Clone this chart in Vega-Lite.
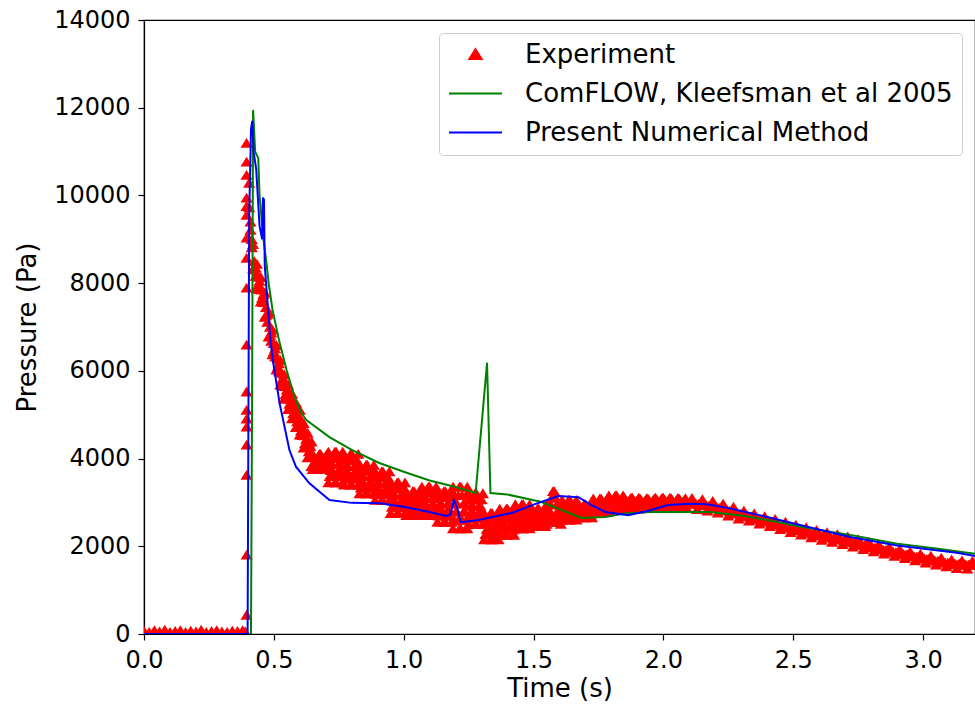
{
  "$schema": "https://vega.github.io/schema/vega-lite/v6.json",
  "width": 831,
  "height": 614,
  "autosize": {"type": "none"},
  "padding": {"left": 144, "top": 20, "right": 0, "bottom": 73},
  "background": "white",
  "config": {
    "font": "DejaVu Sans",
    "view": {"stroke": "black", "strokeWidth": 1.2},
    "axis": {
      "grid": false,
      "domainColor": "black",
      "domainWidth": 1.2,
      "tickColor": "black",
      "tickSize": 6,
      "tickWidth": 1.2,
      "labelColor": "black",
      "titleColor": "black",
      "labelFontSize": 24,
      "titleFontSize": 26,
      "titleFontWeight": "normal",
      "labelPadding": 8
    },
    "legend": {
      "orient": "none", "legendX": 295, "legendY": 13,
      "labelFontSize": 26, "labelColor": "black", "labelLimit": 700, "labelOffset": 22,
      "symbolSize": 2809, "symbolStrokeWidth": 2,
      "clipHeight": 25, "rowPadding": 12, "padding": 9,
      "strokeColor": "#cccccc", "fillColor": "white", "cornerRadius": 4
    }
  },
  "datasets": {
    "exp": [
      {"t":0.0,"p":60},{"t":0.02,"p":40},{"t":0.04,"p":80},{"t":0.06,"p":50},{"t":0.08,"p":90},{"t":0.1,"p":40},{"t":0.12,"p":60},{"t":0.14,"p":80},{"t":0.16,"p":40},{"t":0.18,"p":70},{"t":0.2,"p":50},{"t":0.22,"p":90},{"t":0.24,"p":40},{"t":0.26,"p":60},{"t":0.28,"p":80},{"t":0.3,"p":50},{"t":0.32,"p":40},{"t":0.34,"p":70},{"t":0.36,"p":60},{"t":0.38,"p":80},{"t":0.39,"p":50},
      {"t":0.395,"p":430},{"t":0.395,"p":1800},{"t":0.395,"p":3620},{"t":0.395,"p":4310},{"t":0.395,"p":4720},{"t":0.395,"p":4900},{"t":0.395,"p":5100},{"t":0.395,"p":5520},{"t":0.395,"p":6590},{"t":0.395,"p":7890},{"t":0.395,"p":8570},{"t":0.395,"p":9030},{"t":0.395,"p":9550},{"t":0.395,"p":9750},{"t":0.395,"p":9940},{"t":0.395,"p":10460},{"t":0.395,"p":10760},{"t":0.395,"p":11190},
      {"t":0.405,"p":10280},{"t":0.41,"p":9393},{"t":0.415,"p":8807},{"t":0.42,"p":8320},{"t":0.425,"p":8307},{"t":0.43,"p":8343},{"t":0.435,"p":8430},{"t":0.44,"p":8143},{"t":0.445,"p":7857},{"t":0.45,"p":7570},{"t":0.455,"p":7657},{"t":0.46,"p":7743},{"t":0.465,"p":7780},{"t":0.47,"p":7443},{"t":0.475,"p":7107},{"t":0.48,"p":6770},{"t":0.485,"p":6807},{"t":0.49,"p":6863},{"t":0.495,"p":6930},{"t":0.5,"p":6623},{"t":0.505,"p":6317},{"t":0.51,"p":6020},{"t":0.515,"p":6087},{"t":0.52,"p":6163},{"t":0.525,"p":6240},{"t":0.53,"p":5943},{"t":0.535,"p":5647},{"t":0.54,"p":5350},{"t":0.545,"p":5457},{"t":0.55,"p":5563},{"t":0.555,"p":5680},{"t":0.56,"p":5423},{"t":0.565,"p":5167},{"t":0.57,"p":4910},{"t":0.575,"p":5027},{"t":0.58,"p":5143},{"t":0.585,"p":5270},{"t":0.59,"p":5023},{"t":0.595,"p":4787},{"t":0.6,"p":4540},{"t":0.605,"p":4627},{"t":0.61,"p":4713},{"t":0.615,"p":4800},{"t":0.62,"p":4523},{"t":0.625,"p":4257},{"t":0.63,"p":4020},{"t":0.635,"p":4157},{"t":0.64,"p":4273},{"t":0.645,"p":4380},
      {"t":0.405,"p":9720},{"t":0.41,"p":9207},{"t":0.415,"p":8993},{"t":0.42,"p":8880},{"t":0.425,"p":8493},{"t":0.43,"p":8157},{"t":0.435,"p":7870},{"t":0.44,"p":7957},{"t":0.445,"p":8043},{"t":0.45,"p":8130},{"t":0.455,"p":7843},{"t":0.46,"p":7557},{"t":0.465,"p":7220},{"t":0.47,"p":7257},{"t":0.475,"p":7293},{"t":0.48,"p":7330},{"t":0.485,"p":6993},{"t":0.49,"p":6677},{"t":0.495,"p":6370},{"t":0.5,"p":6437},{"t":0.505,"p":6503},{"t":0.51,"p":6580},{"t":0.515,"p":6273},{"t":0.52,"p":5977},{"t":0.525,"p":5680},{"t":0.53,"p":5757},{"t":0.535,"p":5833},{"t":0.54,"p":5910},{"t":0.545,"p":5643},{"t":0.55,"p":5377},{"t":0.555,"p":5120},{"t":0.56,"p":5237},{"t":0.565,"p":5353},{"t":0.57,"p":5470},{"t":0.575,"p":5213},{"t":0.58,"p":4957},{"t":0.585,"p":4710},{"t":0.59,"p":4837},{"t":0.595,"p":4973},{"t":0.6,"p":5100},{"t":0.605,"p":4813},{"t":0.61,"p":4527},{"t":0.615,"p":4240},{"t":0.62,"p":4337},{"t":0.625,"p":4443},{"t":0.63,"p":4580},{"t":0.635,"p":4343},{"t":0.64,"p":4087},{"t":0.645,"p":3820},
      {"t":0.65,"p":3750},{"t":0.655,"p":3820},{"t":0.66,"p":3890},{"t":0.665,"p":3960},{"t":0.67,"p":4030},{"t":0.675,"p":4100},{"t":0.68,"p":4100},{"t":0.685,"p":4030},{"t":0.69,"p":3960},{"t":0.695,"p":3890},{"t":0.7,"p":3820},{"t":0.705,"p":3750},
      {"t":0.71,"p":3450},{"t":0.715,"p":3590},{"t":0.72,"p":3730},{"t":0.725,"p":3870},{"t":0.73,"p":4010},{"t":0.735,"p":4150},{"t":0.74,"p":4150},{"t":0.745,"p":4010},{"t":0.75,"p":3870},{"t":0.755,"p":3730},{"t":0.76,"p":3590},{"t":0.765,"p":3450},
      {"t":0.77,"p":3400},{"t":0.775,"p":3540},{"t":0.78,"p":3680},{"t":0.785,"p":3820},{"t":0.79,"p":3960},{"t":0.795,"p":4100},{"t":0.8,"p":4100},{"t":0.805,"p":3960},{"t":0.81,"p":3820},{"t":0.815,"p":3680},{"t":0.82,"p":3540},{"t":0.825,"p":3400},
      {"t":0.83,"p":3200},{"t":0.835,"p":3330},{"t":0.84,"p":3460},{"t":0.845,"p":3590},{"t":0.85,"p":3720},{"t":0.855,"p":3850},{"t":0.86,"p":3850},{"t":0.865,"p":3720},{"t":0.87,"p":3590},{"t":0.875,"p":3460},{"t":0.88,"p":3330},{"t":0.885,"p":3200},
      {"t":0.89,"p":3050},{"t":0.895,"p":3180},{"t":0.9,"p":3310},{"t":0.905,"p":3440},{"t":0.91,"p":3570},{"t":0.915,"p":3700},{"t":0.92,"p":3700},{"t":0.925,"p":3570},{"t":0.93,"p":3440},{"t":0.935,"p":3310},{"t":0.94,"p":3180},{"t":0.945,"p":3050},
      {"t":0.95,"p":2750},{"t":0.955,"p":2890},{"t":0.96,"p":3030},{"t":0.965,"p":3170},{"t":0.97,"p":3310},{"t":0.975,"p":3450},{"t":0.98,"p":3450},{"t":0.985,"p":3310},{"t":0.99,"p":3170},{"t":0.995,"p":3030},{"t":1.0,"p":2890},{"t":1.005,"p":2750},
      {"t":1.01,"p":2700},{"t":1.015,"p":2810},{"t":1.02,"p":2920},{"t":1.025,"p":3030},{"t":1.03,"p":3140},{"t":1.035,"p":3250},{"t":1.04,"p":3250},{"t":1.045,"p":3140},{"t":1.05,"p":3030},{"t":1.055,"p":2920},{"t":1.06,"p":2810},{"t":1.065,"p":2700},
      {"t":1.07,"p":2700},{"t":1.075,"p":2830},{"t":1.08,"p":2960},{"t":1.085,"p":3090},{"t":1.09,"p":3220},{"t":1.095,"p":3350},{"t":1.1,"p":3350},{"t":1.105,"p":3220},{"t":1.11,"p":3090},{"t":1.115,"p":2960},{"t":1.12,"p":2830},{"t":1.125,"p":2700},
      {"t":1.13,"p":2550},{"t":1.135,"p":2690},{"t":1.14,"p":2830},{"t":1.145,"p":2970},{"t":1.15,"p":3110},{"t":1.155,"p":3250},{"t":1.16,"p":3250},{"t":1.165,"p":3110},{"t":1.17,"p":2970},{"t":1.175,"p":2830},{"t":1.18,"p":2690},{"t":1.185,"p":2550},
      {"t":1.19,"p":2400},{"t":1.195,"p":2590},{"t":1.2,"p":2780},{"t":1.205,"p":2970},{"t":1.21,"p":3160},{"t":1.215,"p":3350},{"t":1.22,"p":3350},{"t":1.225,"p":3160},{"t":1.23,"p":2970},{"t":1.235,"p":2780},{"t":1.24,"p":2590},{"t":1.245,"p":2400},
      {"t":1.25,"p":2500},{"t":1.255,"p":2640},{"t":1.26,"p":2780},{"t":1.265,"p":2920},{"t":1.27,"p":3060},{"t":1.275,"p":3200},{"t":1.28,"p":3200},{"t":1.285,"p":3060},{"t":1.29,"p":2920},{"t":1.295,"p":2780},{"t":1.3,"p":2640},{"t":1.305,"p":2500},
      {"t":1.31,"p":2150},{"t":1.315,"p":2270},{"t":1.32,"p":2390},{"t":1.325,"p":2510},{"t":1.33,"p":2630},{"t":1.335,"p":2750},{"t":1.34,"p":2750},{"t":1.345,"p":2630},{"t":1.35,"p":2510},{"t":1.355,"p":2390},{"t":1.36,"p":2270},{"t":1.365,"p":2150},
      {"t":1.37,"p":2250},{"t":1.375,"p":2370},{"t":1.38,"p":2490},{"t":1.385,"p":2610},{"t":1.39,"p":2730},{"t":1.395,"p":2850},{"t":1.4,"p":2850},{"t":1.405,"p":2730},{"t":1.41,"p":2610},{"t":1.415,"p":2490},{"t":1.42,"p":2370},{"t":1.425,"p":2250},
      {"t":1.43,"p":2400},{"t":1.435,"p":2510},{"t":1.44,"p":2620},{"t":1.445,"p":2730},{"t":1.45,"p":2840},{"t":1.455,"p":2950},{"t":1.46,"p":2950},{"t":1.465,"p":2840},{"t":1.47,"p":2730},{"t":1.475,"p":2620},{"t":1.48,"p":2510},{"t":1.485,"p":2400},
      {"t":1.49,"p":2450},{"t":1.495,"p":2530},{"t":1.5,"p":2610},{"t":1.505,"p":2690},{"t":1.51,"p":2770},{"t":1.515,"p":2850},{"t":1.52,"p":2850},{"t":1.525,"p":2770},{"t":1.53,"p":2690},{"t":1.535,"p":2610},{"t":1.54,"p":2530},{"t":1.545,"p":2450},
      {"t":1.55,"p":2500},{"t":1.555,"p":2650},{"t":1.56,"p":2800},{"t":1.565,"p":2950},{"t":1.57,"p":3100},{"t":1.575,"p":3250},{"t":1.58,"p":3250},{"t":1.585,"p":3100},{"t":1.59,"p":2950},{"t":1.595,"p":2800},{"t":1.6,"p":2650},{"t":1.605,"p":2500},
      {"t":1.61,"p":2600},{"t":1.615,"p":2690},{"t":1.62,"p":2780},{"t":1.625,"p":2870},{"t":1.63,"p":2960},{"t":1.635,"p":3050},{"t":1.64,"p":3050},{"t":1.645,"p":2960},{"t":1.65,"p":2870},{"t":1.655,"p":2780},{"t":1.66,"p":2690},{"t":1.665,"p":2600},
      {"t":1.67,"p":2650},{"t":1.675,"p":2710},{"t":1.68,"p":2770},{"t":1.685,"p":2830},{"t":1.69,"p":2890},{"t":1.695,"p":2950},{"t":1.7,"p":2950},{"t":1.705,"p":2890},{"t":1.71,"p":2830},{"t":1.715,"p":2770},{"t":1.72,"p":2710},{"t":1.725,"p":2650},
      {"t":1.73,"p":2780},{"t":1.735,"p":2840},{"t":1.74,"p":2900},{"t":1.745,"p":2960},{"t":1.75,"p":3020},{"t":1.755,"p":3080},{"t":1.76,"p":3080},{"t":1.765,"p":3020},{"t":1.77,"p":2960},{"t":1.775,"p":2900},{"t":1.78,"p":2840},{"t":1.785,"p":2780},
      {"t":1.79,"p":2820},{"t":1.795,"p":2890},{"t":1.8,"p":2950},{"t":1.805,"p":3020},{"t":1.81,"p":3080},{"t":1.815,"p":3150},{"t":1.82,"p":3150},{"t":1.825,"p":3080},{"t":1.83,"p":3020},{"t":1.835,"p":2950},{"t":1.84,"p":2890},{"t":1.845,"p":2820},
      {"t":1.85,"p":2850},{"t":1.855,"p":2900},{"t":1.86,"p":2950},{"t":1.865,"p":3000},{"t":1.87,"p":3050},{"t":1.875,"p":3100},{"t":1.88,"p":3100},{"t":1.885,"p":3050},{"t":1.89,"p":3000},{"t":1.895,"p":2950},{"t":1.9,"p":2900},{"t":1.905,"p":2850},
      {"t":1.91,"p":2860},{"t":1.915,"p":2900},{"t":1.92,"p":2950},{"t":1.925,"p":2990},{"t":1.93,"p":3040},{"t":1.935,"p":3080},{"t":1.94,"p":3080},{"t":1.945,"p":3040},{"t":1.95,"p":2990},{"t":1.955,"p":2950},{"t":1.96,"p":2900},{"t":1.965,"p":2860},
      {"t":1.97,"p":2870},{"t":1.975,"p":2920},{"t":1.98,"p":2960},{"t":1.985,"p":3010},{"t":1.99,"p":3050},{"t":1.995,"p":3100},{"t":2.0,"p":3100},{"t":2.005,"p":3050},{"t":2.01,"p":3010},{"t":2.015,"p":2960},{"t":2.02,"p":2920},{"t":2.025,"p":2870},
      {"t":2.03,"p":2860},{"t":2.035,"p":2910},{"t":2.04,"p":2950},{"t":2.045,"p":3000},{"t":2.05,"p":3040},{"t":2.055,"p":3090},{"t":2.06,"p":3090},{"t":2.065,"p":3040},{"t":2.07,"p":3000},{"t":2.075,"p":2950},{"t":2.08,"p":2910},{"t":2.085,"p":2860},
      {"t":0.65,"p":4100},{"t":0.655,"p":4030},{"t":0.66,"p":3960},{"t":0.665,"p":3890},{"t":0.67,"p":3820},{"t":0.675,"p":3750},{"t":0.68,"p":3750},{"t":0.685,"p":3820},{"t":0.69,"p":3890},{"t":0.695,"p":3960},{"t":0.7,"p":4030},{"t":0.705,"p":4100},
      {"t":0.71,"p":4150},{"t":0.715,"p":4010},{"t":0.72,"p":3870},{"t":0.725,"p":3730},{"t":0.73,"p":3590},{"t":0.735,"p":3450},{"t":0.74,"p":3450},{"t":0.745,"p":3590},{"t":0.75,"p":3730},{"t":0.755,"p":3870},{"t":0.76,"p":4010},{"t":0.765,"p":4150},
      {"t":0.77,"p":4100},{"t":0.775,"p":3960},{"t":0.78,"p":3820},{"t":0.785,"p":3680},{"t":0.79,"p":3540},{"t":0.795,"p":3400},{"t":0.8,"p":3400},{"t":0.805,"p":3540},{"t":0.81,"p":3680},{"t":0.815,"p":3820},{"t":0.82,"p":3960},{"t":0.825,"p":4100},
      {"t":0.83,"p":3850},{"t":0.835,"p":3720},{"t":0.84,"p":3590},{"t":0.845,"p":3460},{"t":0.85,"p":3330},{"t":0.855,"p":3200},{"t":0.86,"p":3200},{"t":0.865,"p":3330},{"t":0.87,"p":3460},{"t":0.875,"p":3590},{"t":0.88,"p":3720},{"t":0.885,"p":3850},
      {"t":0.89,"p":3700},{"t":0.895,"p":3570},{"t":0.9,"p":3440},{"t":0.905,"p":3310},{"t":0.91,"p":3180},{"t":0.915,"p":3050},{"t":0.92,"p":3050},{"t":0.925,"p":3180},{"t":0.93,"p":3310},{"t":0.935,"p":3440},{"t":0.94,"p":3570},{"t":0.945,"p":3700},
      {"t":0.95,"p":3450},{"t":0.955,"p":3310},{"t":0.96,"p":3170},{"t":0.965,"p":3030},{"t":0.97,"p":2890},{"t":0.975,"p":2750},{"t":0.98,"p":2750},{"t":0.985,"p":2890},{"t":0.99,"p":3030},{"t":0.995,"p":3170},{"t":1.0,"p":3310},{"t":1.005,"p":3450},
      {"t":1.01,"p":3250},{"t":1.015,"p":3140},{"t":1.02,"p":3030},{"t":1.025,"p":2920},{"t":1.03,"p":2810},{"t":1.035,"p":2700},{"t":1.04,"p":2700},{"t":1.045,"p":2810},{"t":1.05,"p":2920},{"t":1.055,"p":3030},{"t":1.06,"p":3140},{"t":1.065,"p":3250},
      {"t":1.07,"p":3350},{"t":1.075,"p":3220},{"t":1.08,"p":3090},{"t":1.085,"p":2960},{"t":1.09,"p":2830},{"t":1.095,"p":2700},{"t":1.1,"p":2700},{"t":1.105,"p":2830},{"t":1.11,"p":2960},{"t":1.115,"p":3090},{"t":1.12,"p":3220},{"t":1.125,"p":3350},
      {"t":1.13,"p":3250},{"t":1.135,"p":3110},{"t":1.14,"p":2970},{"t":1.145,"p":2830},{"t":1.15,"p":2690},{"t":1.155,"p":2550},{"t":1.16,"p":2550},{"t":1.165,"p":2690},{"t":1.17,"p":2830},{"t":1.175,"p":2970},{"t":1.18,"p":3110},{"t":1.185,"p":3250},
      {"t":1.19,"p":3350},{"t":1.195,"p":3160},{"t":1.2,"p":2970},{"t":1.205,"p":2780},{"t":1.21,"p":2590},{"t":1.215,"p":2400},{"t":1.22,"p":2400},{"t":1.225,"p":2590},{"t":1.23,"p":2780},{"t":1.235,"p":2970},{"t":1.24,"p":3160},{"t":1.245,"p":3350},
      {"t":1.25,"p":3200},{"t":1.255,"p":3060},{"t":1.26,"p":2920},{"t":1.265,"p":2780},{"t":1.27,"p":2640},{"t":1.275,"p":2500},{"t":1.28,"p":2500},{"t":1.285,"p":2640},{"t":1.29,"p":2780},{"t":1.295,"p":2920},{"t":1.3,"p":3060},{"t":1.305,"p":3200},
      {"t":1.31,"p":2750},{"t":1.315,"p":2630},{"t":1.32,"p":2510},{"t":1.325,"p":2390},{"t":1.33,"p":2270},{"t":1.335,"p":2150},{"t":1.34,"p":2150},{"t":1.345,"p":2270},{"t":1.35,"p":2390},{"t":1.355,"p":2510},{"t":1.36,"p":2630},{"t":1.365,"p":2750},
      {"t":1.37,"p":2850},{"t":1.375,"p":2730},{"t":1.38,"p":2610},{"t":1.385,"p":2490},{"t":1.39,"p":2370},{"t":1.395,"p":2250},{"t":1.4,"p":2250},{"t":1.405,"p":2370},{"t":1.41,"p":2490},{"t":1.415,"p":2610},{"t":1.42,"p":2730},{"t":1.425,"p":2850},
      {"t":1.43,"p":2950},{"t":1.435,"p":2840},{"t":1.44,"p":2730},{"t":1.445,"p":2620},{"t":1.45,"p":2510},{"t":1.455,"p":2400},{"t":1.46,"p":2400},{"t":1.465,"p":2510},{"t":1.47,"p":2620},{"t":1.475,"p":2730},{"t":1.48,"p":2840},{"t":1.485,"p":2950},
      {"t":1.49,"p":2850},{"t":1.495,"p":2770},{"t":1.5,"p":2690},{"t":1.505,"p":2610},{"t":1.51,"p":2530},{"t":1.515,"p":2450},{"t":1.52,"p":2450},{"t":1.525,"p":2530},{"t":1.53,"p":2610},{"t":1.535,"p":2690},{"t":1.54,"p":2770},{"t":1.545,"p":2850},
      {"t":1.55,"p":2950},{"t":1.555,"p":2870},{"t":1.56,"p":2790},{"t":1.565,"p":2710},{"t":1.57,"p":2630},{"t":1.575,"p":2550},{"t":1.58,"p":2550},{"t":1.585,"p":2630},{"t":1.59,"p":2710},{"t":1.595,"p":2790},{"t":1.6,"p":2870},{"t":1.605,"p":2950},
      {"t":1.61,"p":3050},{"t":1.615,"p":2960},{"t":1.62,"p":2870},{"t":1.625,"p":2780},{"t":1.63,"p":2690},{"t":1.635,"p":2600},{"t":1.64,"p":2600},{"t":1.645,"p":2690},{"t":1.65,"p":2780},{"t":1.655,"p":2870},{"t":1.66,"p":2960},{"t":1.665,"p":3050},
      {"t":1.67,"p":2950},{"t":1.675,"p":2890},{"t":1.68,"p":2830},{"t":1.685,"p":2770},{"t":1.69,"p":2710},{"t":1.695,"p":2650},{"t":1.7,"p":2650},{"t":1.705,"p":2710},{"t":1.71,"p":2770},{"t":1.715,"p":2830},{"t":1.72,"p":2890},{"t":1.725,"p":2950},
      {"t":1.73,"p":3080},{"t":1.735,"p":3020},{"t":1.74,"p":2960},{"t":1.745,"p":2900},{"t":1.75,"p":2840},{"t":1.755,"p":2780},{"t":1.76,"p":2780},{"t":1.765,"p":2840},{"t":1.77,"p":2900},{"t":1.775,"p":2960},{"t":1.78,"p":3020},{"t":1.785,"p":3080},
      {"t":1.79,"p":3150},{"t":1.795,"p":3080},{"t":1.8,"p":3020},{"t":1.805,"p":2950},{"t":1.81,"p":2890},{"t":1.815,"p":2820},{"t":1.82,"p":2820},{"t":1.825,"p":2890},{"t":1.83,"p":2950},{"t":1.835,"p":3020},{"t":1.84,"p":3080},{"t":1.845,"p":3150},
      {"t":1.85,"p":3100},{"t":1.855,"p":3050},{"t":1.86,"p":3000},{"t":1.865,"p":2950},{"t":1.87,"p":2900},{"t":1.875,"p":2850},{"t":1.88,"p":2850},{"t":1.885,"p":2900},{"t":1.89,"p":2950},{"t":1.895,"p":3000},{"t":1.9,"p":3050},{"t":1.905,"p":3100},
      {"t":1.91,"p":3080},{"t":1.915,"p":3040},{"t":1.92,"p":2990},{"t":1.925,"p":2950},{"t":1.93,"p":2900},{"t":1.935,"p":2860},{"t":1.94,"p":2860},{"t":1.945,"p":2900},{"t":1.95,"p":2950},{"t":1.955,"p":2990},{"t":1.96,"p":3040},{"t":1.965,"p":3080},
      {"t":1.97,"p":3100},{"t":1.975,"p":3050},{"t":1.98,"p":3010},{"t":1.985,"p":2960},{"t":1.99,"p":2920},{"t":1.995,"p":2870},{"t":2.0,"p":2870},{"t":2.005,"p":2920},{"t":2.01,"p":2960},{"t":2.015,"p":3010},{"t":2.02,"p":3050},{"t":2.025,"p":3100},
      {"t":2.03,"p":3090},{"t":2.035,"p":3040},{"t":2.04,"p":3000},{"t":2.045,"p":2950},{"t":2.05,"p":2910},{"t":2.055,"p":2860},{"t":2.06,"p":2860},{"t":2.065,"p":2910},{"t":2.07,"p":2950},{"t":2.075,"p":3000},{"t":2.08,"p":3040},{"t":2.085,"p":3090},
      {"t":2.09,"p":2865},{"t":2.1,"p":2980},{"t":2.11,"p":3095},{"t":2.12,"p":2968},{"t":2.13,"p":2840},{"t":2.14,"p":2952},{"t":2.15,"p":3065},{"t":2.16,"p":2935},{"t":2.17,"p":2805},{"t":2.18,"p":2912},{"t":2.19,"p":3025},{"t":2.2,"p":2900},
      {"t":2.21,"p":2760},{"t":2.22,"p":2860},{"t":2.23,"p":2965},{"t":2.24,"p":2825},{"t":2.25,"p":2690},{"t":2.26,"p":2790},{"t":2.27,"p":2895},{"t":2.28,"p":2755},{"t":2.29,"p":2620},{"t":2.3,"p":2720},
      {"t":2.31,"p":2805},{"t":2.32,"p":2690},{"t":2.33,"p":2575},{"t":2.34,"p":2660},{"t":2.35,"p":2740},{"t":2.36,"p":2625},{"t":2.37,"p":2510},{"t":2.38,"p":2595},{"t":2.39,"p":2680},{"t":2.4,"p":2565},
      {"t":2.41,"p":2450},{"t":2.42,"p":2530},{"t":2.43,"p":2615},{"t":2.44,"p":2500},{"t":2.45,"p":2380},{"t":2.46,"p":2465},{"t":2.47,"p":2550},{"t":2.48,"p":2430},{"t":2.49,"p":2315},{"t":2.5,"p":2400},
      {"t":2.51,"p":2485},{"t":2.52,"p":2370},{"t":2.53,"p":2255},{"t":2.54,"p":2340},{"t":2.55,"p":2425},{"t":2.56,"p":2310},{"t":2.57,"p":2195},{"t":2.58,"p":2280},{"t":2.59,"p":2365},{"t":2.6,"p":2250},
      {"t":2.61,"p":2138},{"t":2.62,"p":2226},{"t":2.63,"p":2314},{"t":2.64,"p":2202},{"t":2.65,"p":2090},{"t":2.66,"p":2178},{"t":2.67,"p":2266},{"t":2.68,"p":2154},{"t":2.69,"p":2042},{"t":2.7,"p":2130},
      {"t":2.71,"p":2215},{"t":2.72,"p":2100},{"t":2.73,"p":1985},{"t":2.74,"p":2070},{"t":2.75,"p":2155},{"t":2.76,"p":2040},{"t":2.77,"p":1925},{"t":2.78,"p":2010},{"t":2.79,"p":2095},{"t":2.8,"p":1980},
      {"t":2.81,"p":1877},{"t":2.82,"p":1954},{"t":2.83,"p":2031},{"t":2.84,"p":1928},{"t":2.85,"p":1825},{"t":2.86,"p":1902},{"t":2.87,"p":1979},{"t":2.88,"p":1876},{"t":2.89,"p":1773},{"t":2.9,"p":1850},
      {"t":2.91,"p":1927},{"t":2.92,"p":1824},{"t":2.93,"p":1721},{"t":2.94,"p":1798},{"t":2.95,"p":1875},{"t":2.96,"p":1772},{"t":2.97,"p":1669},{"t":2.98,"p":1746},{"t":2.99,"p":1823},{"t":3.0,"p":1720},
      {"t":3.01,"p":1619},{"t":3.02,"p":1698},{"t":3.03,"p":1777},{"t":3.04,"p":1676},{"t":3.05,"p":1575},{"t":3.06,"p":1654},{"t":3.07,"p":1733},{"t":3.08,"p":1632},{"t":3.09,"p":1531},{"t":3.1,"p":1610},
      {"t":3.11,"p":1690},{"t":3.12,"p":1590},{"t":3.13,"p":1495},{"t":3.14,"p":1590},{"t":3.15,"p":1670},{"t":3.16,"p":1575},{"t":3.17,"p":1480},{"t":3.18,"p":1575},{"t":3.19,"p":1660},{"t":3.2,"p":1565},
      {"t":2.095,"p":2982},{"t":2.105,"p":2978},{"t":2.115,"p":2971},{"t":2.125,"p":2964},{"t":2.135,"p":2956},{"t":2.145,"p":2948},{"t":2.155,"p":2940},{"t":2.165,"p":2930},{"t":2.175,"p":2918},{"t":2.185,"p":2908},{"t":2.195,"p":2902},{"t":2.205,"p":2890},{"t":2.215,"p":2870},{"t":2.225,"p":2852},{"t":2.235,"p":2835},{"t":2.245,"p":2818},{"t":2.255,"p":2800},{"t":2.265,"p":2782},{"t":2.275,"p":2765},{"t":2.285,"p":2748},{"t":2.295,"p":2730},{"t":2.305,"p":2712},{"t":2.315,"p":2698},{"t":2.325,"p":2682},{"t":2.335,"p":2668},{"t":2.345,"p":2650},{"t":2.355,"p":2632},{"t":2.365,"p":2618},{"t":2.375,"p":2602},{"t":2.385,"p":2588},{"t":2.395,"p":2572},
      {"t":2.405,"p":2558},{"t":2.415,"p":2540},{"t":2.425,"p":2522},{"t":2.435,"p":2508},{"t":2.445,"p":2490},{"t":2.455,"p":2472},{"t":2.465,"p":2458},{"t":2.475,"p":2440},{"t":2.485,"p":2422},{"t":2.495,"p":2408},{"t":2.505,"p":2392},{"t":2.515,"p":2378},{"t":2.525,"p":2362},{"t":2.535,"p":2348},{"t":2.545,"p":2332},{"t":2.555,"p":2318},{"t":2.565,"p":2302},{"t":2.575,"p":2288},{"t":2.585,"p":2272},{"t":2.595,"p":2258},{"t":2.605,"p":2244},{"t":2.615,"p":2232},{"t":2.625,"p":2220},{"t":2.635,"p":2208},{"t":2.645,"p":2196},{"t":2.655,"p":2184},{"t":2.665,"p":2172},{"t":2.675,"p":2160},{"t":2.685,"p":2148},{"t":2.695,"p":2136},
      {"t":2.705,"p":2122},{"t":2.715,"p":2108},{"t":2.725,"p":2092},{"t":2.735,"p":2078},{"t":2.745,"p":2062},{"t":2.755,"p":2048},{"t":2.765,"p":2032},{"t":2.775,"p":2018},{"t":2.785,"p":2002},{"t":2.795,"p":1988},{"t":2.805,"p":1974},{"t":2.815,"p":1960},{"t":2.825,"p":1948},{"t":2.835,"p":1934},{"t":2.845,"p":1922},{"t":2.855,"p":1908},{"t":2.865,"p":1896},{"t":2.875,"p":1882},{"t":2.885,"p":1870},{"t":2.895,"p":1856},{"t":2.905,"p":1844},{"t":2.915,"p":1830},{"t":2.925,"p":1818},{"t":2.935,"p":1804},{"t":2.945,"p":1792},{"t":2.955,"p":1778},{"t":2.965,"p":1766},{"t":2.975,"p":1752},{"t":2.985,"p":1740},{"t":2.995,"p":1726},
      {"t":3.005,"p":1714},{"t":3.015,"p":1704},{"t":3.025,"p":1692},{"t":3.035,"p":1682},{"t":3.045,"p":1670},{"t":3.055,"p":1660},{"t":3.065,"p":1648},{"t":3.075,"p":1638},{"t":3.085,"p":1626},{"t":3.095,"p":1616},{"t":3.105,"p":1605},{"t":3.115,"p":1595},{"t":3.125,"p":1588},{"t":3.135,"p":1588},{"t":3.145,"p":1585},{"t":3.155,"p":1578},{"t":3.165,"p":1572},{"t":3.175,"p":1572},{"t":3.185,"p":1572},{"t":3.195,"p":1568}
    ],
    "com": [
      {"t":0.0,"p":0},{"t":0.412,"p":0},{"t":0.416,"p":5000},{"t":0.42,"p":11950},{"t":0.428,"p":11000},{"t":0.44,"p":10850},{"t":0.445,"p":10000},{"t":0.46,"p":9000},{"t":0.472,"p":8440},{"t":0.48,"p":8000},{"t":0.495,"p":7390},{"t":0.52,"p":6700},{"t":0.549,"p":6020},{"t":0.58,"p":5400},{"t":0.605,"p":5050},{"t":0.625,"p":4880},{"t":0.714,"p":4490},{"t":0.8,"p":4200},{"t":0.906,"p":3900},{"t":1.0,"p":3700},{"t":1.1,"p":3500},{"t":1.2,"p":3350},{"t":1.277,"p":3215},{"t":1.321,"p":6186},{"t":1.334,"p":3215},{"t":1.4,"p":3180},{"t":1.531,"p":3010},{"t":1.685,"p":2645},{"t":1.777,"p":2670},{"t":1.85,"p":2750},{"t":1.95,"p":2780},{"t":2.018,"p":2780},{"t":2.18,"p":2780},{"t":2.3,"p":2700},{"t":2.4,"p":2600},{"t":2.55,"p":2420},{"t":2.72,"p":2260},{"t":2.9,"p":2060},{"t":3.05,"p":1950},{"t":3.2,"p":1830}
    ],
    "pnm": [
      {"t":0.0,"p":0},{"t":0.399,"p":0},{"t":0.405,"p":9500},{"t":0.412,"p":11500},{"t":0.417,"p":11700},{"t":0.422,"p":11000},{"t":0.432,"p":10600},{"t":0.445,"p":9300},{"t":0.455,"p":9000},{"t":0.458,"p":9950},{"t":0.462,"p":9900},{"t":0.465,"p":8400},{"t":0.475,"p":7600},{"t":0.487,"p":6700},{"t":0.496,"p":6250},{"t":0.522,"p":5265},{"t":0.56,"p":4195},{"t":0.585,"p":3815},{"t":0.637,"p":3435},{"t":0.714,"p":3055},{"t":0.8,"p":2990},{"t":0.906,"p":2980},{"t":1.0,"p":2900},{"t":1.1,"p":2780},{"t":1.163,"p":2690},{"t":1.18,"p":2720},{"t":1.193,"p":3055},{"t":1.205,"p":2900},{"t":1.22,"p":2550},{"t":1.289,"p":2600},{"t":1.35,"p":2680},{"t":1.416,"p":2760},{"t":1.5,"p":2950},{"t":1.596,"p":3145},{"t":1.673,"p":3120},{"t":1.72,"p":2950},{"t":1.777,"p":2780},{"t":1.865,"p":2710},{"t":1.95,"p":2820},{"t":2.018,"p":2940},{"t":2.1,"p":2970},{"t":2.17,"p":2960},{"t":2.25,"p":2870},{"t":2.4,"p":2670},{"t":2.55,"p":2450},{"t":2.72,"p":2210},{"t":2.9,"p":2020},{"t":3.13,"p":1850},{"t":3.2,"p":1780}
    ]
  },
  "encoding": {
    "x": {
      "field": "t", "type": "quantitative",
      "scale": {"domain": [0, 3.2], "nice": false, "zero": false},
      "axis": {"title": "Time (s)", "values": [0, 0.5, 1, 1.5, 2, 2.5, 3], "format": ".1f", "labelFlush": false, "titlePadding": 3}
    },
    "y": {
      "field": "p", "type": "quantitative",
      "scale": {"domain": [0, 14000], "nice": false},
      "axis": {"title": "Pressure (Pa)", "values": [0, 2000, 4000, 6000, 8000, 10000, 12000, 14000], "format": "d", "titlePadding": 13}
    }
  },
  "layer": [
    {
      "data": {"name": "exp"},
      "mark": {"type": "point", "filled": true, "size": 2809, "opacity": 1, "clip": true},
      "encoding": {
        "color": {
          "datum": "Experiment", "type": "nominal",
          "scale": {"domain": ["Experiment", "ComFLOW, Kleefsman et al 2005", "Present Numerical Method"], "range": ["#ff0000", "#008000", "#0000ff"]},
          "legend": {"title": null}
        },
        "shape": {
          "datum": "Experiment", "type": "nominal",
          "scale": {"domain": ["Experiment", "ComFLOW, Kleefsman et al 2005", "Present Numerical Method"], "range": ["M0,-0.2L0.23,0.17L-0.23,0.17Z", "stroke", "stroke"]},
          "legend": {"title": null}
        }
      }
    },
    {
      "data": {"name": "com"},
      "mark": {"type": "line", "strokeWidth": 2, "clip": true},
      "encoding": {"color": {"datum": "ComFLOW, Kleefsman et al 2005", "type": "nominal"}}
    },
    {
      "data": {"name": "pnm"},
      "mark": {"type": "line", "strokeWidth": 2, "clip": true},
      "encoding": {"color": {"datum": "Present Numerical Method", "type": "nominal"}}
    }
  ]
}
